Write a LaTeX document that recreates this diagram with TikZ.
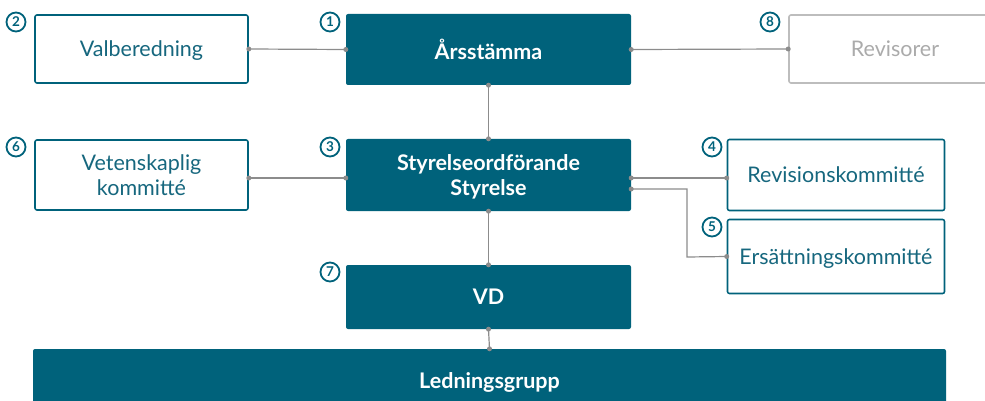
\documentclass[tikz,border=0pt]{standalone}
\usepackage{fontspec}
\setmainfont{Lato}
\usetikzlibrary{calc}
\definecolor{teal1}{HTML}{00627B}
\definecolor{tealtxt}{HTML}{16677E}
\definecolor{linegray}{HTML}{8C8C8C}
\definecolor{lightgray1}{HTML}{BDBDBD}
\definecolor{lighttxt}{HTML}{ABABAB}
\tikzset{
  filledbox/.style={fill=teal1, draw=none, rounded corners=2pt, text=white, font=\fontsize{21.5}{25}\selectfont\bfseries, align=center, inner sep=0pt, text depth=0pt},
  outlinebox/.style={draw=teal1, line width=1.6pt, rounded corners=2pt, fill=white, text=tealtxt, font=\fontsize{21.5}{25}\selectfont, align=center, inner sep=0pt, text depth=0pt},
  graybox/.style={draw=lightgray1, line width=1.6pt, rounded corners=2pt, fill=white, text=lighttxt, font=\fontsize{21.5}{25}\selectfont, align=center, inner sep=0pt, text depth=0pt},
  numcircle/.style={circle, draw=teal1, line width=1.8pt, text=teal1, minimum size=19pt, inner sep=0pt, font=\fontsize{13.5}{13.5}\selectfont\bfseries},
  conn/.style={draw=linegray, line width=1.2pt},
  dot/.style={fill=linegray, draw=none, circle, minimum size=5pt, inner sep=0pt},
}
\begin{document}
\begin{tikzpicture}[x=1pt,y=-1pt]
\useasboundingbox (0,0) rectangle (985,401);
% boxes
\node[outlinebox, minimum width=213pt, minimum height=68pt] (val) at (141.5,49) {Valberedning};
\node[filledbox, minimum width=285pt, minimum height=71pt] (ars) at (488.5,49.5) {Årsstämma};
\node[graybox, minimum width=212pt, minimum height=68pt] (rev) at (895,49) {Revisorer};
\node[outlinebox, minimum width=213pt, minimum height=70pt] (vet) at (141.5,175) {Vetenskaplig\\kommitté};
\node[filledbox, minimum width=285pt, minimum height=72pt] (sty) at (488.5,175) {Styrelseordförande\\Styrelse};
\node[outlinebox, minimum width=217pt, minimum height=71pt] (rk) at (836,175) {Revisionskommitté};
\node[outlinebox, minimum width=217pt, minimum height=74pt] (ek) at (836,256.5) {Ersättningskommitté};
\node[filledbox, minimum width=285pt, minimum height=64pt] (vd) at (488.5,297) {VD};
\node[filledbox, minimum width=913pt, minimum height=64pt, rounded corners=2pt] (led) at (489.5,381) {Ledningsgrupp};
% number circles
\node[numcircle] (c2) at (16,22) {2};
\node[numcircle] (c1) at (330,22) {1};
\node[numcircle] (c8) at (770,22) {8};
\node[numcircle] (c6) at (16,147) {6};
\node[numcircle] (c3) at (330,147) {3};
\node[numcircle] (c4) at (712,147) {4};
\node[numcircle] (c5) at (712,227) {5};
\node[numcircle] (c7) at (330,272) {7};
% connector end points
\coordinate (s1) at ($(sty.east)+(0,3)$);
\coordinate (s2) at ($(sty.east)+(0,14)$);
\coordinate (v1) at ($(vet.east)+(0,3)$);
\coordinate (s3) at ($(sty.west)+(0,3)$);
\coordinate (r1) at ($(rk.west)+(0,3)$);
\coordinate (e1) at (ek.west);
% connectors
\draw[conn] (val.east) -- (ars.west);
\draw[conn] (ars.east) -- (rev.west);
\draw[conn] (ars.south) -- (sty.north);
\draw[conn] (v1) -- (s3);
\draw[conn] (s1) -- (r1);
\draw[conn] (s2) -| (687,257) -- (e1);
\draw[conn] (sty.south) -- (vd.north);
\draw[conn] (vd.south) -- (led.north);
% dots
\foreach \p in {val.east, ars.west, ars.east, rev.west, ars.south, sty.north, v1, s3, s1, r1, s2, e1, sty.south, vd.north, vd.south, led.north}
  \node[dot] at (\p) {};
\end{tikzpicture}
\end{document}
